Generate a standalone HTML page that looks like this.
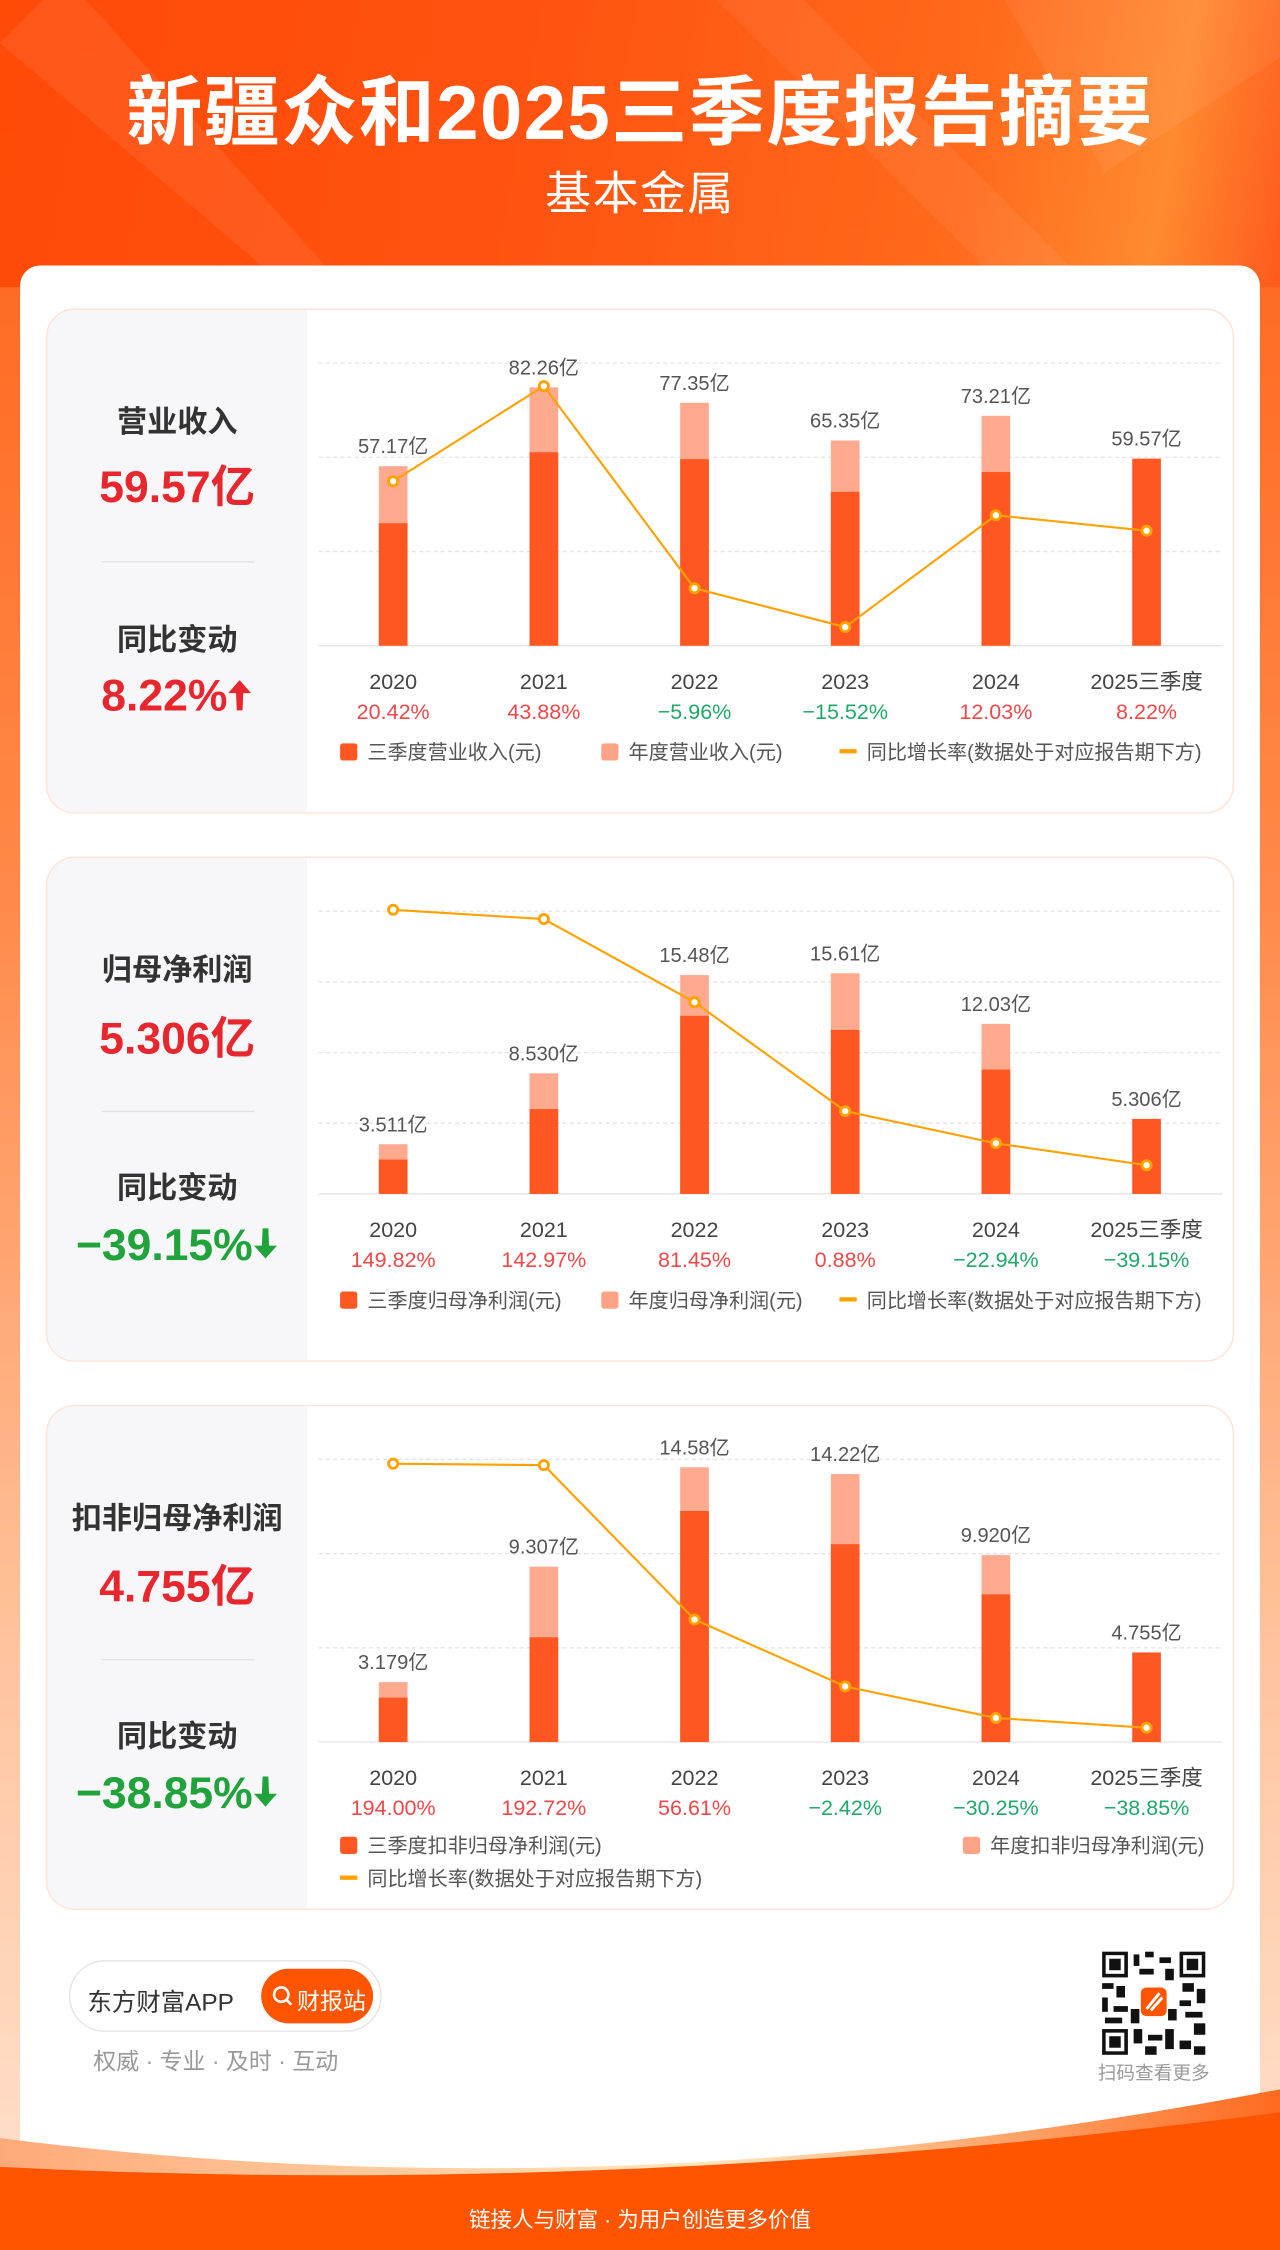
<!DOCTYPE html>
<html><head><meta charset="utf-8">
<style>
*{margin:0;padding:0;box-sizing:border-box}
html,body{width:1280px;height:2250px;overflow:hidden;background:#fff}
#wrap{position:absolute;left:0;top:0;width:892px;height:1568px;transform:scale(1.43498);transform-origin:0 0;
 font-family:"Liberation Sans","Noto Sans CJK SC",sans-serif;
 background:linear-gradient(180deg,#ff5410 0%,#ff6a22 12%,#ff8a4a 40%,#ffc6a2 75%,#ffe2cf 100%);overflow:hidden}
.abs{position:absolute}
#hdr{left:0;top:0;width:892px;height:200px;background:linear-gradient(100deg,#ff4a08 0%,#ff5210 40%,#ff6a1c 75%,#ff8a30 90%,#ff5a1c 100%)}
.t{position:absolute;white-space:nowrap}
#card{left:14px;top:185px;width:864px;height:1400px;background:#fff;border-radius:14px}
.panel{position:absolute;left:32px;width:828px;height:352px;border:1.5px solid #fde2d6;border-radius:20px;background:#fff;overflow:hidden}
.side{position:absolute;left:0;top:0;width:181px;height:100%;background:#f7f7f9}
.lt{position:absolute;left:0;width:181px;text-align:center;color:#333;font-weight:bold;font-size:21px}
.lv{position:absolute;left:0;width:181px;text-align:center;font-weight:bold;font-size:31px}
.div{position:absolute;left:38px;width:106px;height:1px;background:#e2e2e6}
.lg{position:absolute;font-size:14px;color:#555;white-space:nowrap;line-height:16px}
.sq{display:inline-block;width:12px;height:12px;border-radius:2px;vertical-align:-1px;margin-right:7px}
.ln{display:inline-block;width:12px;height:3px;background:#ffa200;vertical-align:4px;margin-right:7px}
</style></head><body>
<div id="wrap">
 <div id="hdr" class="abs">
  <svg width="892" height="200" style="position:absolute;left:0;top:0">
   <polygon points="0,30 30,0 60,0 240,200 200,200" fill="#ffffff" opacity="0.07"/>
   <polygon points="500,0 560,0 760,200 700,200" fill="#ffffff" opacity="0.06"/>
   <polygon points="700,0 892,0 892,40 770,120" fill="#ffffff" opacity="0.06"/>
  </svg>
  <div class="t" style="left:0;width:892px;text-align:center;top:48px;font-size:53px;font-weight:bold;color:#fff;letter-spacing:1px;line-height:64px">新疆众和2025三季度报告摘要</div>
  <div class="t" style="left:0;width:892px;text-align:center;top:116px;font-size:32px;color:#fff;letter-spacing:1px;line-height:38px">基本金属</div>
 </div>
 <div id="card" class="abs"></div>

 <!-- Panel 1 -->
 <div class="panel" style="top:215px">
  <div class="side"></div>
  <div class="lt" style="top:62px">营业收入</div>
  <div class="lv" style="top:98px;color:#e8262d">59.57亿</div>
  <div class="div" style="top:175px"></div>
  <div class="lt" style="top:214px">同比变动</div>
  <div class="lv" style="top:251px;color:#e8262d">8.22%<svg width="18" height="24" viewBox="0 0 18 24" style="vertical-align:-1px"><path d="M9 2 L17 11 L11.5 11 L11 23 L7 23 L6.5 11 L1 11 Z" fill="#e8262d"/></svg></div>
  <div class="lg" style="left:204px;top:300px"><span class="sq" style="background:#ff5722"></span>三季度营业收入(元)</div>
  <div class="lg" style="left:386px;top:300px"><span class="sq" style="background:#ffa386"></span>年度营业收入(元)</div>
  <div class="lg" style="left:552px;top:300px"><span class="ln"></span>同比增长率(数据处于对应报告期下方)</div>
 </div>

 <!-- Panel 2 -->
 <div class="panel" style="top:597px">
  <div class="side"></div>
  <div class="lt" style="top:62px">归母净利润</div>
  <div class="lv" style="top:100px;color:#e8262d">5.306亿</div>
  <div class="div" style="top:176px"></div>
  <div class="lt" style="top:214px">同比变动</div>
  <div class="lv" style="top:252px;color:#1fa33a">−39.15%<svg width="18" height="24" viewBox="0 0 18 24" style="vertical-align:-1px"><path d="M9 22 L17 13 L11.5 13 L11 1 L7 1 L6.5 13 L1 13 Z" fill="#1fa33a"/></svg></div>
  <div class="lg" style="left:204px;top:300px"><span class="sq" style="background:#ff5722"></span>三季度归母净利润(元)</div>
  <div class="lg" style="left:386px;top:300px"><span class="sq" style="background:#ffa386"></span>年度归母净利润(元)</div>
  <div class="lg" style="left:552px;top:300px"><span class="ln"></span>同比增长率(数据处于对应报告期下方)</div>
 </div>

 <!-- Panel 3 -->
 <div class="panel" style="top:979px">
  <div class="side"></div>
  <div class="lt" style="top:62px">扣非归母净利润</div>
  <div class="lv" style="top:100px;color:#e8262d">4.755亿</div>
  <div class="div" style="top:176px"></div>
  <div class="lt" style="top:214px">同比变动</div>
  <div class="lv" style="top:252px;color:#1fa33a">−38.85%<svg width="18" height="24" viewBox="0 0 18 24" style="vertical-align:-1px"><path d="M9 22 L17 13 L11.5 13 L11 1 L7 1 L6.5 13 L1 13 Z" fill="#1fa33a"/></svg></div>
  <div class="lg" style="left:204px;top:298px"><span class="sq" style="background:#ff5722"></span>三季度扣非归母净利润(元)</div>
  <div class="lg" style="left:638px;top:298px"><span class="sq" style="background:#ffa386"></span>年度扣非归母净利润(元)</div>
  <div class="lg" style="left:204px;top:321px"><span class="ln"></span>同比增长率(数据处于对应报告期下方)</div>
 </div>

 <svg id="charts" class="abs" style="left:0;top:0" width="892" height="1568"></svg>

 <!-- footer -->
 <div class="abs" style="left:48px;top:1366px;width:218px;height:50px;border:1.5px solid #e6e6e6;border-radius:25px;background:#fff">
  <div class="t" style="left:12px;top:14px;font-size:17px;color:#333">东方财富APP</div>
  <div class="abs" style="left:133px;top:5px;width:78px;height:38px;border-radius:19px;background:#ff5500">
   <svg width="16" height="16" style="position:absolute;left:7px;top:11px"><circle cx="7" cy="7" r="5" stroke="#fff" stroke-width="1.8" fill="none"/><line x1="10.5" y1="10.5" x2="14" y2="14" stroke="#fff" stroke-width="1.8"/></svg>
   <div class="t" style="left:25px;top:9px;font-size:16px;color:#fff">财报站</div>
  </div>
 </div>
 <div class="t" style="left:65px;top:1423px;font-size:16px;color:#999">权威 · 专业 · 及时 · 互动</div>
 <svg class="abs" style="left:768px;top:1360px" width="72" height="72">
  <rect width="72" height="72" fill="#fff"/>
  <g fill="#111">
   <rect x="0" y="0" width="18" height="18"/><rect x="54" y="0" width="18" height="18"/><rect x="0" y="54" width="18" height="18"/>
   <rect x="22" y="2" width="4" height="8"/><rect x="30" y="0" width="6" height="4"/><rect x="40" y="4" width="8" height="4"/><rect x="26" y="12" width="10" height="4"/><rect x="44" y="12" width="6" height="8"/>
   <rect x="0" y="22" width="8" height="4"/><rect x="10" y="24" width="6" height="8"/><rect x="0" y="32" width="4" height="10"/><rect x="8" y="38" width="10" height="4"/><rect x="2" y="46" width="12" height="4"/>
   <rect x="56" y="22" width="8" height="6"/><rect x="66" y="26" width="6" height="10"/><rect x="54" y="34" width="8" height="4"/><rect x="58" y="42" width="12" height="4"/><rect x="64" y="50" width="8" height="8"/>
   <rect x="22" y="54" width="6" height="10"/><rect x="32" y="58" width="10" height="4"/><rect x="44" y="54" width="6" height="14"/><rect x="54" y="62" width="8" height="6"/><rect x="30" y="66" width="8" height="6"/><rect x="64" y="66" width="8" height="6"/>
   <rect x="20" y="40" width="6" height="10"/><rect x="46" y="40" width="6" height="8"/>
  </g>
  <g fill="#fff"><rect x="2.5" y="2.5" width="13" height="13"/><rect x="56.5" y="2.5" width="13" height="13"/><rect x="2.5" y="56.5" width="13" height="13"/></g>
  <g fill="#111"><rect x="5" y="5" width="8" height="8"/><rect x="59" y="5" width="8" height="8"/><rect x="5" y="59" width="8" height="8"/></g>
  <rect x="27" y="25" width="18" height="20" rx="4" fill="#ff5500"/>
  <path d="M31 40 L40 29 M34 41 L42 32" stroke="#fff" stroke-width="2"/>
 </svg>
 <div class="t" style="left:752px;top:1434px;width:104px;text-align:center;font-size:13px;color:#999">扫码查看更多</div>

 <svg class="abs" style="left:0;top:1440px" width="892" height="128">
  <defs><linearGradient id="wg" x1="0" x2="1" y1="0" y2="0"><stop offset="0" stop-color="#ffa978"/><stop offset="0.55" stop-color="#ffe6bc"/><stop offset="1" stop-color="#ff6a20"/></linearGradient></defs>
  <path d="M0,50 Q430,105 892,16 L892,128 L0,128 Z" fill="url(#wg)"/>
  <path d="M0,70 Q430,92 892,32 L892,128 L0,128 Z" fill="#ff5500"/>
 </svg>
 <div class="t" style="left:0;width:892px;text-align:center;top:1536px;font-size:15px;color:#fff">链接人与财富 · 为用户创造更多价值</div>
</div>
<script>
const categories = ["2020","2021","2022","2023","2024","2025三季度"];
const revQ3 = [39.0, 61.6, 59.4, 49.0, 55.3, 59.57];
const revAnnual = [57.17, 82.26, 77.35, 65.35, 73.21, null];
const revLabels = ["57.17亿","82.26亿","77.35亿","65.35亿","73.21亿","59.57亿"];
const revGrowth = [20.42, 43.88, -5.96, -15.52, 12.03, 8.22];
const revGrowthLabels = ["20.42%","43.88%","−5.96%","−15.52%","12.03%","8.22%"];

const npQ3 = [2.43, 6.0, 12.6, 11.6, 8.8, 5.306];
const npAnnual = [3.511, 8.530, 15.48, 15.61, 12.03, null];
const npLabels = ["3.511亿","8.530亿","15.48亿","15.61亿","12.03亿","5.306亿"];
const npGrowth = [149.82, 142.97, 81.45, 0.88, -22.94, -39.15];
const npGrowthLabels = ["149.82%","142.97%","81.45%","0.88%","−22.94%","−39.15%"];

const dpQ3 = [2.36, 5.56, 12.26, 10.5, 7.84, 4.755];
const dpAnnual = [3.179, 9.307, 14.58, 14.22, 9.920, null];
const dpLabels = ["3.179亿","9.307亿","14.58亿","14.22亿","9.920亿","4.755亿"];
const dpGrowth = [194.00, 192.72, 56.61, -2.42, -30.25, -38.85];
const dpGrowthLabels = ["194.00%","192.72%","56.61%","−2.42%","−30.25%","−38.85%"];

const NS = "http://www.w3.org/2000/svg";
const svg = document.getElementById("charts");
function mk(tag, attrs, parent){const e=document.createElementNS(NS,tag);for(const k in attrs)e.setAttribute(k,attrs[k]);(parent||svg).appendChild(e);return e;}

function drawChart(name, q3, annual, labels, growth, growthLabels, yMax, gridN, base, lineTop, lineBot){
  const g = mk("g",{});
  
  
  const plotH = 197;
  const x = i => 274 + i*105;
  const y = v => base - v/yMax*plotH;
  const gmax = Math.max(...growth), gmin = Math.min(...growth);
  const gy = v => lineTop + (gmax - v)/(gmax - gmin)*(lineBot - lineTop);
  for(let k=0;k<=gridN;k++){
    const ly = base - k*plotH/gridN;
    const gl = mk("line",{x1:222,x2:852,y1:ly,y2:ly,stroke:"#e6e6ea","stroke-width":1,"stroke-dasharray":k===0?"":"3 2"},g);
    
    
  }
  categories.forEach((c,i)=>{
    let top = y(q3[i]);
    if(annual[i]!=null){
      const ya = y(annual[i]);
      const ab = mk("rect",{x:x(i)-10,y:ya,width:20,height:base-ya,fill:"#ffa98f"},g);
      
      
      top = Math.min(top, ya);
    }
    const qb = mk("rect",{x:x(i)-10,y:y(q3[i]),width:20,height:base-y(q3[i]),fill:"#ff5722"},g);
    
    
    const vl = mk("text",{x:x(i),y:top-9,"text-anchor":"middle","font-size":14,fill:"#555"},g);
    vl.textContent = labels[i];
    
    
    const xl = mk("text",{x:x(i),y:base+30,"text-anchor":"middle","font-size":15,fill:"#444"},g);
    xl.textContent = c;
    
    
    const pl = mk("text",{x:x(i),y:base+51,"text-anchor":"middle","font-size":15,fill:growth[i]>=0?"#f04848":"#22a86a"},g);
    pl.textContent = growthLabels[i];
    
    
  });
  const pts = growth.map((v,i)=>x(i)+","+gy(v)).join(" ");
  const line = mk("polyline",{points:pts,fill:"none",stroke:"#ffa200","stroke-width":1.5},g);
  
  
  growth.forEach((v,i)=>{
    const p = mk("circle",{cx:x(i),cy:gy(v),r:3.2,fill:"#fff",stroke:"#ffa200","stroke-width":2},g);
    
    
  });
}
drawChart("revenue", revQ3, revAnnual, revLabels, revGrowth, revGrowthLabels, 90, 3, 450, 269, 437);
drawChart("net-profit", npQ3, npAnnual, npLabels, npGrowth, npGrowthLabels, 20, 4, 832, 634, 812);
drawChart("deducted-profit", dpQ3, dpAnnual, dpLabels, dpGrowth, dpGrowthLabels, 15, 3, 1214, 1020, 1204);
</script>
</body></html>
